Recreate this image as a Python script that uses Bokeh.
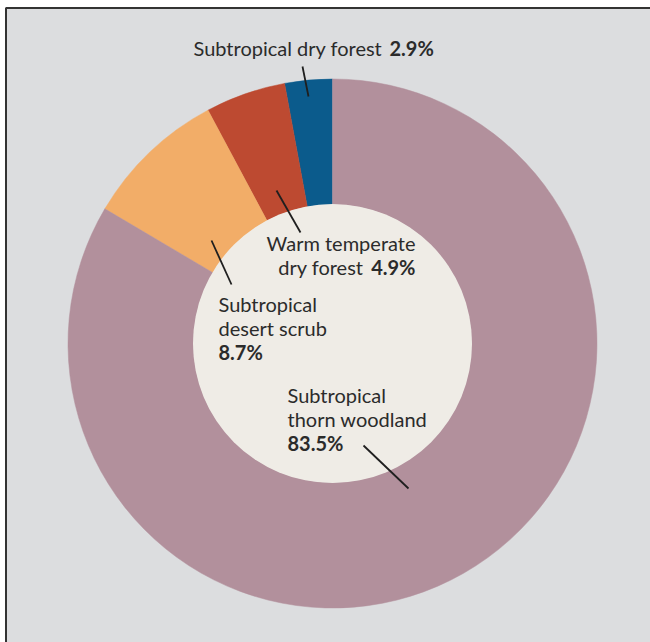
import numpy as np
from bokeh.plotting import figure
from bokeh.models import Range1d
from bokeh.core.properties import value
from bokeh.embed import file_html
from bokeh.resources import INLINE

# ---- data ----
categories = ["Subtropical dry forest", "Warm temperate dry forest",
              "Subtropical desert scrub", "Subtropical thorn woodland"]
shares = [2.9, 4.9, 8.7, 83.5]
colors = ["#0b5b8c", "#bd4a31", "#f2ad68", "#b2909c"]

BG = "#dcdddf"
INNER = "#efece6"
FONT = "Lato"
TXT = "#2b2b2b"

W, H = 650, 642
CX, CY = 332, 343  # pixel centre of donut in page


def dx(px):
    return px - CX


def dy(py):
    return CY - py


p = figure(width=W, height=H, output_backend="svg", toolbar_location=None,
           x_range=Range1d(dx(0), dx(W)), y_range=Range1d(dy(H), dy(0)),
           min_border=0)
p.axis.visible = False
p.grid.visible = False
p.background_fill_color = "white"
p.border_fill_color = "white"
p.outline_line_color = None

# grey panel with dark frame on left and top
p.quad(left=dx(5.5), right=dx(W + 5), top=dy(7.5), bottom=dy(H + 5),
       fill_color=BG, line_color=None)
p.line([dx(5.5), dx(5.5), dx(W + 5)], [dy(H + 5), dy(7.5), dy(7.5)],
       line_color="#333333", line_width=2)

frac = np.array(shares) / sum(shares)
ends = np.pi / 2 + np.cumsum(frac) * 2 * np.pi
starts = ends - frac * 2 * np.pi

p.annular_wedge(x=0, y=0, inner_radius=139, outer_radius=264.5,
                start_angle=starts, end_angle=ends, direction="anticlock",
                fill_color=colors, line_color=colors, line_width=0.5)
p.circle(x=0, y=0, radius=139.5, fill_color=INNER, line_color=None)

# leader lines (annotation positions in pixels)
leaders = [((302, 66), (308, 96)),
           ((276, 190), (300, 232)),
           ((211, 240), (231, 284)),
           ((363, 445), (408, 488))]
for (a, b) in leaders:
    p.line([dx(a[0]), dx(b[0])], [dy(a[1]), dy(b[1])], line_color="#1f1f1f", line_width=1.8)

FS = "20px"
OFF = -8  # baseline correction


def txt(x, y, s, bold=False, align="left"):
    p.text(x=[dx(x)], y=[dy(y + OFF)], text=[s], text_font=value(FONT),
           text_font_size=FS, text_color=TXT, text_align=align,
           text_baseline="alphabetic",
           text_font_style="bold" if bold else "normal")


# top label
txt(193, 55, "Subtropical dry forest")
txt(389, 55, f"{shares[0]}%", bold=True)
# warm temperate
txt(415, 250, "Warm temperate", align="right")
txt(363, 274, "dry forest", align="right")
txt(415, 274, f"{shares[1]}%", bold=True, align="right")
# desert scrub
txt(218, 311, "Subtropical")
txt(218, 335, "desert scrub")
txt(218, 359, f"{shares[2]}%", bold=True)
# thorn woodland
txt(287, 402, "Subtropical")
txt(287, 426, "thorn woodland")
txt(287, 450, f"{shares[3]}%", bold=True)

open("out.html", "w").write(file_html(p, INLINE))
